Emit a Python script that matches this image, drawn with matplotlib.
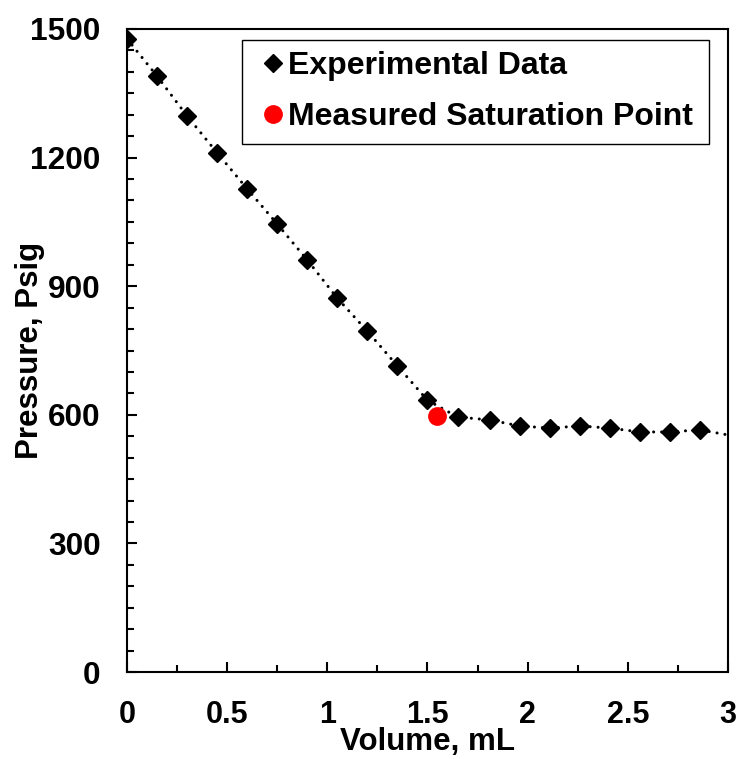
import matplotlib
matplotlib.use('Agg')
import matplotlib.pyplot as plt
from matplotlib.patches import Rectangle
from matplotlib.ticker import MultipleLocator

plt.rcParams['font.family'] = ['Liberation Sans', 'DejaVu Sans']
plt.rcParams['font.weight'] = 'bold'

volume = [0.0, 0.15, 0.30, 0.45, 0.60, 0.75, 0.90, 1.05, 1.20, 1.35, 1.50,
          1.65, 1.81, 1.96, 2.11, 2.26, 2.41, 2.56, 2.71, 2.86]
pressure = [1477, 1390, 1297, 1211, 1127, 1045, 961, 872, 795, 714, 634,
            595, 588, 574, 569, 574, 569, 560, 560, 565]
# dotted line runs on to the right edge
line_end_volume = [3.0]
line_end_pressure = [553]
# measured saturation point
sat_volume = [1.55]
sat_pressure = [597]

fig = plt.figure(figsize=(7.36, 7.59), dpi=100)
ax = fig.add_axes([0.1726, 0.1146, 0.8164, 0.8472])

ax.plot(volume + line_end_volume, pressure + line_end_pressure, color='black',
        lw=2.2, linestyle=(0, (0.01, 2.6)), dash_capstyle='round', zorder=2)
ax.plot(volume, pressure, 'D', color='black', ms=9, ls='none',
        label='Experimental Data', zorder=3)
ax.plot(sat_volume, sat_pressure, 'o', color='#ff0000', ms=12.5, ls='none',
        label='Measured Saturation Point', zorder=4)

ax.set_xlim(0, 3)
ax.set_ylim(0, 1500)
ax.xaxis.set_major_locator(MultipleLocator(0.5))
ax.xaxis.set_minor_locator(MultipleLocator(0.25))
ax.yaxis.set_major_locator(MultipleLocator(300))
ax.yaxis.set_minor_locator(MultipleLocator(50))
ax.set_xticks([0, 0.5, 1, 1.5, 2, 2.5, 3])
ax.set_xticklabels(['0', '0.5', '1', '1.5', '2', '2.5', '3'])

ax.tick_params(which='both', direction='in', width=1.5)
ax.tick_params(which='major', length=7)
ax.tick_params(which='minor', length=5)
ax.tick_params(axis='y', which='major', pad=19, labelsize=22.8)
ax.tick_params(axis='x', which='major', pad=20, labelsize=22)
for s in ax.spines.values():
    s.set_linewidth(1.5)

ax.set_xlabel('Volume, mL', fontsize=22.5, fontweight='bold')
ax.set_ylabel('Pressure, Psig', fontsize=22.5, fontweight='bold')
ax.xaxis.set_label_coords(0.5, -0.0855)
ax.yaxis.set_label_coords(-0.136, 0.5)

# legend box drawn by hand so the padding matches
ax.add_patch(Rectangle((0.1913, 0.8212), 0.777, 0.1617, transform=ax.transAxes,
                       facecolor='white', edgecolor='black', lw=1.0, zorder=5))
leg = ax.legend(loc='upper left', bbox_to_anchor=(0.219, 0.966), borderaxespad=0,
                fontsize=23, frameon=False, handlelength=0.9, handletextpad=0.02,
                borderpad=0, labelspacing=0.66, markerscale=1.0)
leg.set_zorder(6)
for t in leg.get_texts():
    t.set_fontweight('bold')

fig.savefig('out.png', dpi=100)
